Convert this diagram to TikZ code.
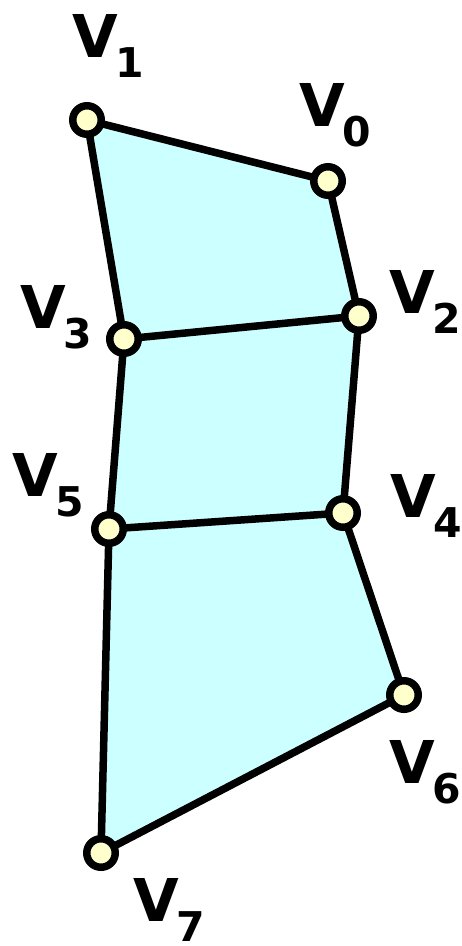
\documentclass[tikz,border=0pt]{standalone}
\usepackage{fontspec}
\setmainfont{DejaVu Sans}[BoldFont={DejaVu Sans Bold}]
\definecolor{facefill}{HTML}{CCFFFF}
\definecolor{vertfill}{HTML}{FFFFCC}
\newcommand\vlab[1]{\bfseries{\fontsize{59}{59}\selectfont V}\kern-2pt\raisebox{-20pt}{\fontsize{41}{41}\selectfont #1}}
\begin{document}
\begin{tikzpicture}[x=1pt,y=-1pt,
  edge/.style={line width=7.5pt,line join=round,line cap=round},
  vert/.style={circle,draw,line width=7.5pt,fill=vertfill,minimum size=28.5pt,inner sep=0pt},
  lab/.style={anchor=base west,inner sep=0pt}]
\useasboundingbox (0,0) rectangle (461,946);
\coordinate (c1) at (87,120);
\coordinate (c0) at (328,181);
\coordinate (c2) at (359,316);
\coordinate (c3) at (124,339);
\coordinate (c5) at (109,529);
\coordinate (c4) at (343,513);
\coordinate (c6) at (404,695);
\coordinate (c7) at (101,853);
\fill[facefill] (c1) -- (c0) -- (c2) -- (c4) -- (c6) -- (c7) -- (c5) -- (c3) -- cycle;
\draw[edge] (c1) -- (c0) -- (c2) -- (c4) -- (c6) -- (c7) -- (c5) -- (c3) -- cycle;
\draw[edge] (c3) -- (c2);
\draw[edge] (c5) -- (c4);
\foreach \i in {0,...,7} \node[vert] (v\i) at (c\i) {};
\node[lab] (l1) at (72,57) {\vlab{1}};
\node[lab] (l0) at (299,126) {\vlab{0}};
\node[lab] (l2) at (389,313) {\vlab{2}};
\node[lab] (l3) at (20,328) {\vlab{3}};
\node[lab] (l5) at (12,496) {\vlab{5}};
\node[lab] (l4) at (390,517) {\vlab{4}};
\node[lab] (l6) at (389,783) {\vlab{6}};
\node[lab] (l7) at (133,921) {\vlab{7}};
\end{tikzpicture}
\end{document}
